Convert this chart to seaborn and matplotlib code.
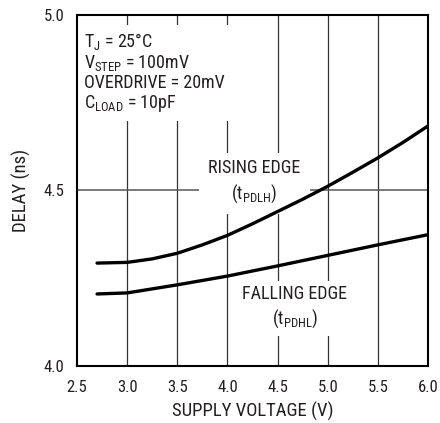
import matplotlib
matplotlib.use("Agg")
import matplotlib.pyplot as plt
import seaborn as sns
import pandas as pd

# Data
voltage_rise = [2.7, 3.0, 3.25, 3.5, 3.75, 4.0, 4.25, 4.5, 4.75, 5.0, 5.25, 5.5, 5.75, 6.0]
delay_rise = [4.293, 4.295, 4.305, 4.321, 4.345, 4.372, 4.405, 4.440, 4.475, 4.512, 4.552, 4.593, 4.637, 4.684]
voltage_fall = [2.7, 3.0, 3.5, 4.0, 4.5, 5.0, 5.5, 6.0]
delay_fall = [4.205, 4.208, 4.231, 4.256, 4.285, 4.315, 4.345, 4.374]
xticks = [2.5, 3.0, 3.5, 4.0, 4.5, 5.0, 5.5, 6.0]
yticks = [4.0, 4.5, 5.0]

sns.set_theme(style="white")
FONT = "Roboto Condensed"
plt.rcParams['font.family'] = [FONT, 'DejaVu Sans']
plt.rcParams['mathtext.fontset'] = 'custom'
plt.rcParams['mathtext.rm'] = FONT
plt.rcParams['mathtext.it'] = FONT
plt.rcParams['mathtext.bf'] = FONT

TXT = "#231f20"

df = pd.concat([
    pd.DataFrame({"V": voltage_rise, "D": delay_rise, "edge": "rise"}),
    pd.DataFrame({"V": voltage_fall, "D": delay_fall, "edge": "fall"}),
])

fig = plt.figure(figsize=(4.4, 4.23), dpi=100)
ax = fig.add_axes([0.175, 0.135, 0.798, 0.8295])

# grid
for x in xticks[1:-1]:
    ax.axvline(x, color="#333333", lw=0.9, zorder=1)
ax.axhline(4.5, color="#555555", lw=1.1, zorder=1)

sns.lineplot(data=df, x="V", y="D", units="edge", estimator=None, color="black",
             lw=2.4, ax=ax, legend=False, zorder=6)

ax.set_xlim(2.5, 6.0)
ax.set_ylim(4.0, 5.0)
ax.set_xticks(xticks)
ax.set_xticklabels([f"{t:.1f}" for t in xticks])
ax.set_yticks(yticks)
ax.set_yticklabels([f"{t:.1f}" for t in yticks])
ax.tick_params(axis="both", length=0, labelsize=12, colors=TXT)
ax.tick_params(axis="x", pad=10)
ax.tick_params(axis="y", pad=9)
ax.set_xlabel("SUPPLY VOLTAGE (V)", fontsize=13.5, color=TXT, labelpad=5)
ax.set_ylabel("DELAY (ns)", fontsize=13.5, color=TXT, labelpad=9)
for s in ax.spines.values():
    s.set_color("black")
    s.set_linewidth(1.5)
    s.set_zorder(7)

ax.text(2.565, 4.955,
        "T$_\\mathregular{J}$ = 25°C\nV$_\\mathregular{STEP}$ = 100mV\nOVERDRIVE = 20mV\nC$_\\mathregular{LOAD}$ = 10pF",
        fontsize=13, ha="left", va="top", color=TXT, linespacing=1.07,
        bbox=dict(boxstyle="square,pad=0.4", facecolor="white", edgecolor="none"), zorder=5)
ax.text(4.27, 4.524, "RISING EDGE\n(t$_\\mathregular{PDLH}$)", fontsize=13, ha="center", va="center",
        color=TXT, linespacing=1.3,
        bbox=dict(boxstyle="square,pad=0.5", facecolor="white", edgecolor="none"), zorder=5)
ax.text(4.67, 4.167, "FALLING EDGE\n(t$_\\mathregular{PDHL}$)", fontsize=13, ha="center", va="center",
        color=TXT, linespacing=1.3,
        bbox=dict(boxstyle="square,pad=0.35", facecolor="white", edgecolor="none"), zorder=5)

fig.savefig("out.png", dpi=100)
